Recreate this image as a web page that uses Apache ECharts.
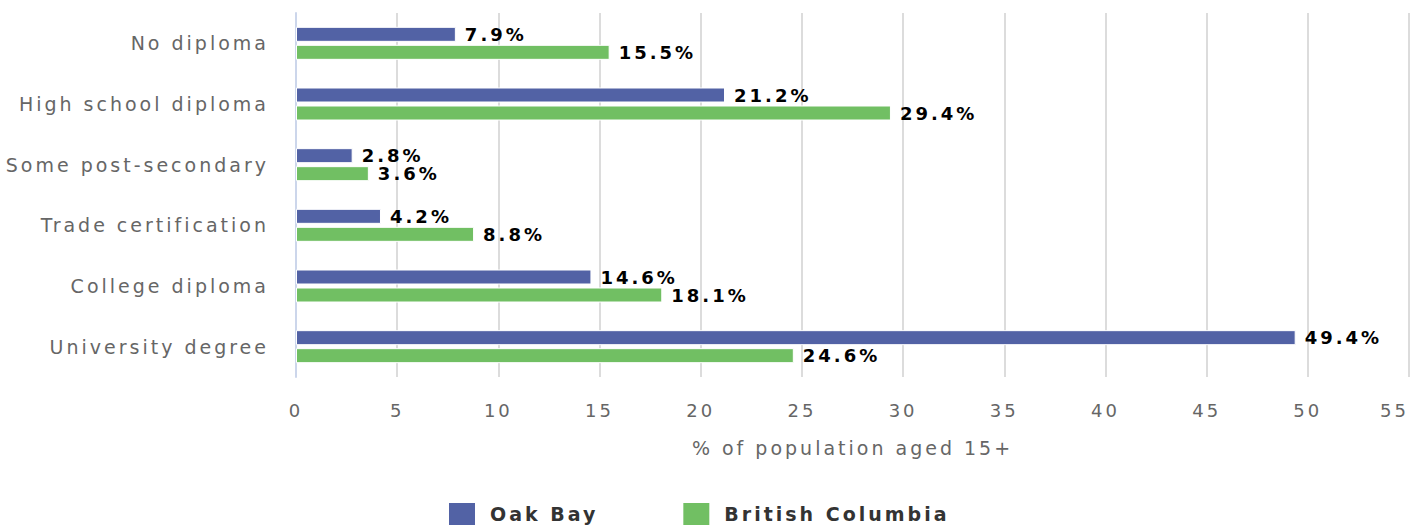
<!DOCTYPE html>
<html>
<head>
<meta charset="utf-8">
<script src="https://cdn.jsdelivr.net/npm/echarts@6/dist/echarts.min.js"></script>
<style>
  html, body { margin: 0; padding: 0; background: #fff; }
  #chart { width: 1411px; height: 527px; }
  /* wide letter spacing like the original */
  #chart text { letter-spacing: 3px; }
</style>
</head>
<body>
<div id="chart"></div>
<script>
var categories = ["No diploma", "High school diploma", "Some post-secondary", "Trade certification", "College diploma", "University degree"];
var oakBay = [7.9, 21.2, 2.8, 4.2, 14.6, 49.4];
var britishColumbia = [15.5, 29.4, 3.6, 8.8, 18.1, 24.6];
var seriesNames = ["Oak Bay", "British Columbia"];
var colorList = ["#5262a5", "#71bf63"];

var myChart = echarts.init(document.getElementById("chart"), null, { renderer: "svg" });

var barLabel = {
  show: true,
  position: "right",
  distance: 9,
  color: "#000",
  fontSize: 18,
  fontWeight: "bold",
  fontFamily: "DejaVu Sans",
  formatter: "{c}%"
};

myChart.setOption({
  animation: false,
  textStyle: { fontFamily: "DejaVu Sans" },
  grid: {
    left: 296,
    right: 2,
    top: 13,
    bottom: 150,
    outerBoundsMode: "none"
  },
  legend: {
    data: seriesNames,
    left: 447,
    top: 501,
    padding: 0,
    icon: "rect",
    itemWidth: 28,
    itemHeight: 24,
    itemGap: 104,
    textStyle: {
      fontSize: 19,
      fontWeight: "bold",
      color: "#333",
      padding: [0, 0, 0, 9]
    }
  },
  xAxis: {
    type: "value",
    min: 0,
    max: 55,
    interval: 5,
    name: "% of population aged 15+",
    nameLocation: "middle",
    nameGap: 61,
    nameTextStyle: { fontSize: 19, color: "#666" },
    axisLine: { show: false },
    axisTick: { show: false },
    axisLabel: { fontSize: 18, color: "#666", margin: 24, alignMaxLabel: "right" },
    splitLine: { lineStyle: { color: "#dcdcdc", width: 2 } }
  },
  yAxis: {
    type: "category",
    inverse: true,
    data: categories,
    axisLine: { lineStyle: { color: "#ccd6eb", width: 2 } },
    axisTick: { length: 18, lineStyle: { color: "#ccd6eb", width: 2 } },
    axisLabel: { fontSize: 19, color: "#666", margin: 27 }
  },
  series: [
    {
      name: seriesNames[0],
      type: "bar",
      data: oakBay,
      barWidth: 15,
      barGap: "20%",
      itemStyle: { color: colorList[0], borderColor: "#fff", borderWidth: 1 },
      label: barLabel
    },
    {
      name: seriesNames[1],
      type: "bar",
      data: britishColumbia,
      barWidth: 15,
      itemStyle: { color: colorList[1], borderColor: "#fff", borderWidth: 1 },
      label: barLabel
    }
  ]
});

window.addEventListener("resize", function () {
  myChart.resize();
});
</script>
</body>
</html>
